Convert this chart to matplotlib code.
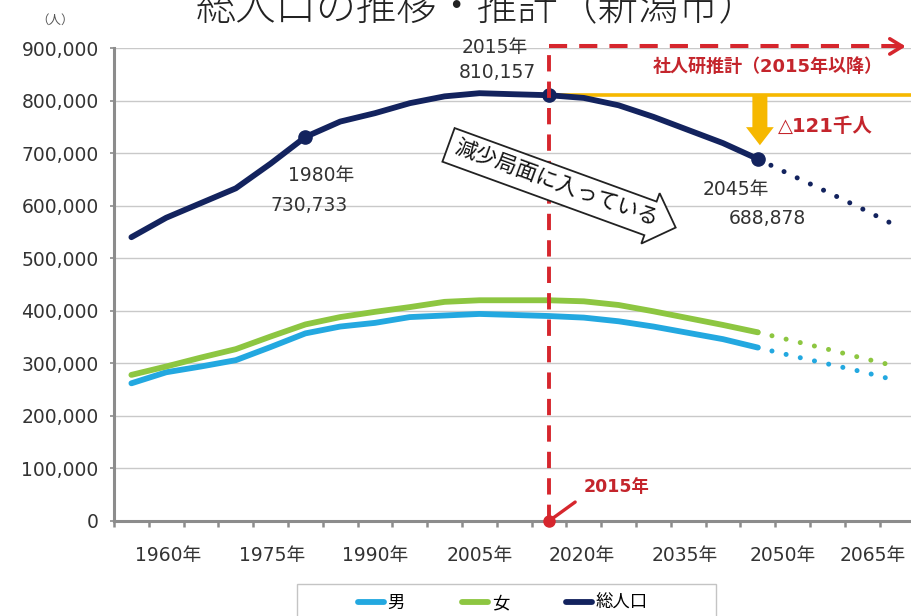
import matplotlib
matplotlib.use('Agg')
import matplotlib.pyplot as plt
from matplotlib.patches import Rectangle

plt.rcParams['font.family'] = ['Noto Sans CJK JP', 'DejaVu Sans']
NUMFONT = ['DejaVu Sans', 'Noto Sans CJK JP']

# ---------------- data ----------------
years = [1955, 1960, 1965, 1970, 1975, 1980, 1985, 1990, 1995, 2000,
         2005, 2010, 2015, 2020, 2025, 2030, 2035, 2040, 2045]
total = [540000, 577000, 605000, 633000, 680000, 730733, 760000, 776000, 795000, 808000,
         814000, 812000, 810157, 805000, 791000, 769000, 744000, 719000, 688878]
male = [262000, 283000, 294000, 306000, 331000, 357000, 370000, 377000, 388000, 391000,
        394000, 392000, 390000, 387000, 380000, 370000, 358000, 346000, 330000]
female = [278000, 294000, 311000, 327000, 351000, 374000, 388000, 398000, 407000, 417000,
          420000, 420000, 420000, 418000, 411000, 399000, 386000, 373000, 359000]

proj_years = [2045, 2050, 2055, 2060, 2065]
proj_total = [688878, 657000, 626000, 594000, 561000]
proj_male = [330000, 314000, 299000, 284000, 267000]
proj_female = [359000, 343000, 327000, 310000, 294000]

marker_years = [1980, 2015, 2045]
label_years = [1960, 1975, 1990, 2005, 2020, 2035, 2050, 2065]
yticks = [0, 100000, 200000, 300000, 400000, 500000, 600000, 700000, 800000, 900000]
base_year = 2015
decline = 121  # 千人

# ---------------- styles ----------------
C_MALE = '#23a8e0'
C_FEMALE = '#8dc641'
C_TOTAL = '#13235e'
C_RED = '#d6262d'
C_REDTXT = '#c4252c'
C_YEL = '#f6b800'
C_AX = '#8c8c8c'
C_TXT = '#333333'

W, H = 912, 616
fig = plt.figure(figsize=(W / 100, H / 100), dpi=100)
ax = fig.add_axes([114 / W, 1 - 521 / H, (W - 114) / W, (521 - 48) / H])

x_left = 1952.5
px_per_year = 6.96
x_right = x_left + (W - 114) / px_per_year
ax.set_xlim(x_left, x_right)
ax.set_ylim(0, 900000)

# grid & spines
ax.set_axisbelow(True)
ax.yaxis.grid(True, color='#c9c9c9', lw=1.0)
for s in ['top', 'right']:
    ax.spines[s].set_visible(False)
for s in ['left', 'bottom']:
    ax.spines[s].set_color(C_AX)
    ax.spines[s].set_linewidth(2.2)

ax.set_yticks(yticks)
ax.set_yticklabels([f'{v:,}' for v in yticks], family=NUMFONT, fontsize=13.5, color=C_TXT)
ax.tick_params(axis='y', length=3, width=1.2, color=C_AX, pad=8)

bounds = [x_left + 5 * k for k in range(0, 24) if x_left + 5 * k <= x_right]
ax.set_xticks(bounds)
ax.set_xticklabels([])
ax.tick_params(axis='x', length=4, width=1.8, color=C_AX, direction='out')

label_dx_px = [2, 2, 0, 0, -2, -3, -10, -24]
for yr, dx in zip(label_years, label_dx_px):
    ax.annotate(f'{yr}年', xy=(yr, 0), xycoords=('data', 'axes fraction'),
                xytext=(dx * 0.72, -24.5), textcoords='offset points',
                ha='center', va='center', fontsize=13.5, color=C_TXT,
                family=NUMFONT, annotation_clip=False)

# ---------------- lines ----------------
lkw = dict(lw=4.2, solid_capstyle='round', solid_joinstyle='round')
l_male, = ax.plot(years, male, color=C_MALE, label='男', **lkw)
l_female, = ax.plot(years, female, color=C_FEMALE, label='女', **lkw)
l_total, = ax.plot(years, total, color=C_TOTAL, label='総人口', zorder=4, **lkw)

dkw = dict(lw=3.6, linestyle=(0, (0.01, 2.9)), dash_capstyle='round')
ax.plot(proj_years, proj_male, color=C_MALE, **dkw)
ax.plot(proj_years, proj_female, color=C_FEMALE, **dkw)
ax.plot(proj_years, proj_total, color=C_TOTAL, **dkw)

mvals = [total[years.index(y)] for y in marker_years]
ax.plot(marker_years, mvals, 'o', color=C_TOTAL, ms=9.5, zorder=5)

# value annotations
ann_offsets = {1980: [(11.5, -28), (3, -49.7)],
               2015: [(-38.9, 34.6), (-37.4, 16.6)],
               2045: [(-15.8, -22.3), (6.8, -43.2)]}
for yr, v in zip(marker_years, mvals):
    (dx1, dy1), (dx2, dy2) = ann_offsets[yr]
    ax.annotate(f'{yr}年', xy=(yr, v), xytext=(dx1, dy1), textcoords='offset points',
                ha='center', va='center', fontsize=13.5, color=C_TXT, family=NUMFONT)
    ax.annotate(f'{v:,}', xy=(yr, v), xytext=(dx2, dy2), textcoords='offset points',
                ha='center', va='center', fontsize=13.5, color=C_TXT, family=NUMFONT)

# ---------------- projection markers ----------------
top_y = 903000
ax.plot([base_year, base_year], [0, top_y], color=C_RED, lw=2.8,
        linestyle=(0, (4.2, 2.6)), clip_on=False, zorder=6)
ax.plot([base_year, x_right - 1.2], [top_y, top_y], color=C_RED, lw=2.9,
        linestyle=(0, (4.5, 3.0)), clip_on=False, zorder=6)
ax.annotate('', xy=(x_right - 0.9, top_y), xytext=(x_right - 2.6, top_y),
            arrowprops=dict(arrowstyle='->,head_length=0.9,head_width=0.55',
                            color=C_RED, lw=2.6, shrinkA=0, shrinkB=0),
            annotation_clip=False, zorder=6)
fig.text(768 / W, 1 - 67 / H, '社人研推計（2015年以降）', ha='center', va='center',
         fontsize=13, fontweight='bold', color=C_REDTXT, family=NUMFONT)

# yellow baseline & decline arrow
v2015 = total[years.index(base_year)]
ax.plot([base_year, x_right], [v2015, v2015], color=C_YEL, lw=2.6, zorder=3, clip_on=False)
ax.annotate('', xy=(2045.3, 715000), xytext=(2045.3, v2015),
            arrowprops=dict(arrowstyle='simple,head_length=1.3,head_width=2.0,tail_width=1.08',
                            mutation_scale=10, fc=C_YEL, ec='none', shrinkA=0, shrinkB=0),
            zorder=3)
fig.text(825 / W, 1 - 126 / H, f'△{decline}千人', ha='center', va='center',
         fontsize=14, fontweight='bold', color=C_REDTXT, family=NUMFONT)

# red 2015 pointer at baseline
ax.plot([base_year], [0], 'o', color=C_RED, ms=8, clip_on=False, zorder=7)
ax.annotate(f'{base_year}年', xy=(base_year, 0), xytext=(48.6, 24.5), textcoords='offset points',
            ha='center', va='center', fontsize=12.5, fontweight='bold', color=C_REDTXT,
            family=NUMFONT, annotation_clip=False,
            arrowprops=dict(arrowstyle='-', color=C_RED, lw=2.4, relpos=(0, 0),
                            shrinkA=5, shrinkB=0))

# block arrow text
fig.text(556 / W, 1 - 184 / H, '減少局面に入っている', rotation=-20, rotation_mode='anchor',
         ha='center', va='center', fontsize=15.5, color='#111111',
         bbox=dict(boxstyle='rarrow,pad=0.32', fc='white', ec='#222222', lw=1.3), zorder=8)

# title & unit
fig.text(477 / W, 1 - 20 / H, '総人口の推移・推計（新潟市）', ha='center', va='baseline',
         fontsize=29, color='#222222', fontweight='light')
fig.text(55 / W, 1 - 20 / H, '（人）', ha='center', va='center', fontsize=9, color='#555555')

# legend
fig.patches.append(Rectangle((297 / W, 1 - 640 / H), 419 / W, 56 / H,
                             transform=fig.transFigure, fc='white', ec='#c4c4c4', lw=1.0))
fig.legend(handles=[l_male, l_female, l_total], loc='center', ncol=3,
           bbox_to_anchor=(503 / W, 1 - 603 / H), frameon=False, fontsize=12.5,
           handlelength=1.5, handletextpad=0.2, columnspacing=3.3)

fig.savefig('out.png', dpi=100)
